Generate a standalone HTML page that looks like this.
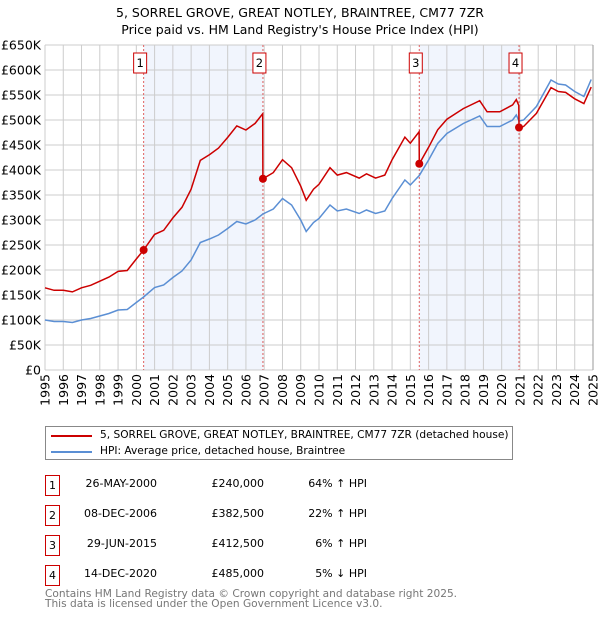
<!DOCTYPE html>
<html><head><meta charset="utf-8"><style>
body{margin:0;width:600px;height:620px;background:#fff;font-family:"DejaVu Sans","Liberation Sans",sans-serif;overflow:hidden;position:relative}
.t{position:absolute;font-size:11px;color:#000;white-space:nowrap}
.box{position:absolute;border:1px solid #c00;font-size:11px;text-align:center;line-height:19px;box-sizing:border-box;width:15px;height:21px}
</style></head><body>
<svg id="chart" width="600" height="420" style="position:absolute;left:0;top:0" font-family="DejaVu Sans, Liberation Sans, sans-serif">
<text x="300" y="17" text-anchor="middle" font-size="12.5">5, SORREL GROVE, GREAT NOTLEY, BRAINTREE, CM77 7ZR</text>
<text x="300" y="34" text-anchor="middle" font-size="12.5">Price paid vs. HM Land Registry's House Price Index (HPI)</text>
<g id="g"></g>
</svg>
<div style="position:absolute;left:45px;top:426px;width:468px;height:34px;border:1px solid #888;box-sizing:border-box">
 <div style="position:absolute;left:5px;top:8px;width:41px;height:2px;background:#c00"></div>
 <div class="t" style="left:54px;top:2px;font-size:10.6px">5, SORREL GROVE, GREAT NOTLEY, BRAINTREE, CM77 7ZR (detached house)</div>
 <div style="position:absolute;left:5px;top:24px;width:41px;height:2px;background:#5b8fd4"></div>
 <div class="t" style="left:54px;top:18px;font-size:10.6px">HPI: Average price, detached house, Braintree</div>
</div>
<div id="tbl"></div>
<div class="t" style="left:45px;top:589px;color:#777;font-size:10.6px;line-height:10px">Contains HM Land Registry data © Crown copyright and database right 2025.<br>This data is licensed under the Open Government Licence v3.0.</div>
<script>
const hpiYears=[1995,1995.5,1996,1996.5,1997,1997.5,1998,1998.5,1999,1999.5,2000,2000.4,2001,2001.5,2002,2002.5,2003,2003.5,2004,2004.5,2005,2005.5,2006,2006.5,2006.93,2007.5,2008,2008.5,2009,2009.3,2009.7,2010,2010.6,2011,2011.5,2012.2,2012.6,2013.1,2013.6,2014,2014.7,2015,2015.49,2016,2016.5,2017,2017.9,2018.8,2019.2,2019.9,2020.6,2020.8,2020.95,2021.2,2021.9,2022.7,2023.1,2023.5,2024,2024.5,2024.9];
const hpiValues=[100,97,97,95,100,103,108,113,120,121,135,146,165,170,185,198,220,255,262,270,283,297,292,300,312,322,343,330,300,277,295,303,330,318,322,313,320,313,318,343,380,370,389,420,453,473,493,508,487,487,500,510,498,500,527,580,572,570,557,547,581];
const saleYears=[2000.4,2006.93,2015.49,2020.95];
const salePrices=[240000,382500,412500,485000];
const saleLabels=["1","2","3","4"];
const saleDates=["26-MAY-2000","08-DEC-2006","29-JUN-2015","14-DEC-2020"];
const salePriceText=["£240,000","£382,500","£412,500","£485,000"];
const saleDiff=["64% ↑ HPI","22% ↑ HPI","6% ↑ HPI","5% ↓ HPI"];
const yTicks=[0,50,100,150,200,250,300,350,400,450,500,550,600,650];
const xTicks=[1995,1996,1997,1998,1999,2000,2001,2002,2003,2004,2005,2006,2007,2008,2009,2010,2011,2012,2013,2014,2015,2016,2017,2018,2019,2020,2021,2022,2023,2024,2025];
const X0=45,X1=593,Y0=370,Y1=45;
const xs=y=>X0+(y-1995)/30*(X1-X0);
const ys=v=>Y0-v/650000*(Y0-Y1);
const NS="http://www.w3.org/2000/svg";
const g=document.getElementById('g');
function mk(t,a){const e=document.createElementNS(NS,t);for(const k in a)e.setAttribute(k,a[k]);g.appendChild(e);return e;}
function hpiAt(y){for(let i=0;i<hpiYears.length-1;i++){if(y<=hpiYears[i+1]){const f=(y-hpiYears[i])/(hpiYears[i+1]-hpiYears[i]);return hpiValues[i]+f*(hpiValues[i+1]-hpiValues[i]);}}return hpiValues[hpiValues.length-1];}
for(let i=0;i<saleYears.length;i+=2){const r=mk('rect',{x:xs(saleYears[i]),y:Y1,width:xs(saleYears[i+1])-xs(saleYears[i]),height:Y0-Y1,fill:'#eef3fc',opacity:0.8});

}
yTicks.forEach(v=>{const l=mk('line',{x1:X0,x2:X1,y1:ys(v*1000),y2:ys(v*1000),stroke:'#ccc','stroke-width':1});


const t=mk('text',{x:41,y:ys(v*1000)+4.5,'text-anchor':'end','font-size':12.5});t.textContent=v==0?'£0':'£'+v+'K';

});
xTicks.forEach(yr=>{const l=mk('line',{x1:xs(yr),x2:xs(yr),y1:Y1,y2:Y0,stroke:'#ccc','stroke-width':1});


const t=mk('text',{x:0,y:0,'text-anchor':'end','font-size':12.5,transform:`translate(${xs(yr)+4.5},${Y0+4}) rotate(-90)`});t.textContent=yr;

});
mk('line',{x1:X1,x2:X1,y1:Y1,y2:Y0,stroke:'#999','stroke-width':1});
saleYears.forEach(sy=>{const l=mk('line',{x1:xs(sy),x2:xs(sy),y1:Y1,y2:Y0,stroke:'#e06060','stroke-width':1,'stroke-dasharray':'2,2'});

});
let d='';hpiYears.forEach((y,i)=>{d+=(i?'L':'M')+xs(y).toFixed(1)+','+ys(hpiValues[i]*1000).toFixed(1);});
const hl=mk('path',{d:d,fill:'none',stroke:'#5b8fd4','stroke-width':1.5});


let rd='';
const pts=[];
hpiYears.forEach(y=>pts.push(y));saleYears.forEach(y=>{pts.push(y-0.01);pts.push(y);});
pts.sort((a,b)=>a-b);
pts.forEach((y,i)=>{let k=0;while(k<saleYears.length-1&&y>=saleYears[k+1])k++;
 const v=salePrices[k]*hpiAt(y)/hpiAt(saleYears[k]);rd+=(i?'L':'M')+xs(y).toFixed(1)+','+ys(v).toFixed(1);});
const rl=mk('path',{d:rd,fill:'none',stroke:'#cc0000','stroke-width':1.5});


saleYears.forEach((sy,i)=>{const c=mk('circle',{cx:xs(sy),cy:ys(salePrices[i]),r:4,fill:'#cc0000'});


const b=mk('rect',{x:xs(sy)-10,y:53,width:13,height:20,fill:'#fff',stroke:'#c00'});


const t=mk('text',{x:xs(sy)-3.5,y:67,'text-anchor':'middle','font-size':11.5});t.textContent=saleLabels[i];

});
const tbl=document.getElementById('tbl');
saleLabels.forEach((lab,i)=>{const top=475+i*30;
 const b=document.createElement('div');b.className='box';b.style.left='45px';b.style.top=top+'px';b.textContent=lab;
 
 
 tbl.appendChild(b);
 [[saleDates[i],157],[salePriceText[i],264],[saleDiff[i],367]].forEach(([txt,r])=>{const e=document.createElement('div');e.className='t';e.style.right=(600-r)+'px';e.style.top=(top+2)+'px';e.textContent=txt;
 
 
 tbl.appendChild(e);});});
</script>
</body></html>
